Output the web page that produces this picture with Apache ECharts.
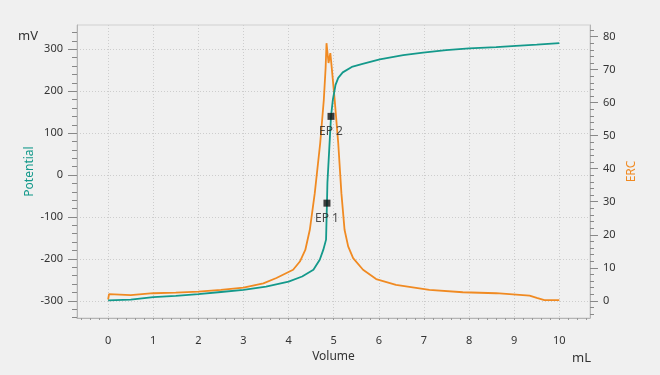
<!DOCTYPE html>
<html>
<head>
<meta charset="utf-8">
<script src="https://cdn.jsdelivr.net/npm/echarts@6/dist/echarts.min.js"></script>
<style>
html,body{margin:0;padding:0;background:#f0f0f0;}
#c{width:660px;height:375px;}
</style>
</head>
<body>
<div id="c"></div>
<script>
// ---- data ----
const potVolume = [0, 0.5, 1, 1.5, 2, 2.5, 3, 3.5, 3.75, 4, 4.3, 4.55, 4.69, 4.77, 4.83, 4.85, 4.86, 4.9, 4.94, 4.98, 5.04, 5.1, 5.2, 5.4, 5.64, 6.02, 6.54, 6.98, 7.49, 8.0, 8.6, 9.04, 9.5, 10];
const potential = [-299, -297, -291, -288, -284, -279, -274, -266, -260, -254, -242, -226, -202, -178, -154, -67, -19, 60, 140, 179, 215, 232, 245, 258, 265, 276, 286, 292, 298, 302, 305, 308, 311, 315];
const ercVolume = [0, 0.02, 0.5, 1, 1.5, 2, 2.5, 3, 3.44, 3.73, 4.1, 4.25, 4.37, 4.47, 4.58, 4.70, 4.78, 4.82, 4.84, 4.885, 4.925, 4.96, 5.02, 5.10, 5.17, 5.24, 5.32, 5.43, 5.65, 5.94, 6.38, 7.12, 7.86, 8.6, 9.34, 9.5, 9.67, 10];
const erc = [0.4, 2.0, 1.7, 2.3, 2.5, 2.8, 3.3, 4.0, 5.3, 6.9, 9.4, 11.9, 15.4, 21.5, 32.6, 47.7, 60.8, 70.4, 78, 72, 75, 70, 61, 47.7, 32.6, 21.5, 16.5, 12.9, 9.4, 6.6, 4.8, 3.3, 2.6, 2.3, 1.6, 0.9, 0.2, 0.2];
const epLabels = ['EP 1', 'EP 2'];
const epVolume = [4.85, 4.94];
const epPotential = [-67, 140];

const xTicks = [0, 1, 2, 3, 4, 5, 6, 7, 8, 9, 10];
const potTicks = [-300, -200, -100, 0, 100, 200, 300];
const ercTicks = [0, 10, 20, 30, 40, 50, 60, 70, 80];

// minor tick positions
const xMinor = [];
for (let i = -3; i <= 53; i++) xMinor.push(+(i * 0.2).toFixed(2));
const potMinor = [];
for (let v = -340; v <= 340; v += 20) if (v % 100 !== 0) potMinor.push(v);
const ercMinor = [];
for (let v = -4; v <= 82; v += 2) if (v % 10 !== 0) ercMinor.push(v);

const X_MIN = -0.69, X_MAX = 10.68;
const P_MIN = -341, P_MAX = 358;
const E_MIN = -5.2, E_MAX = 83.5;

const TEAL = '#14998b';
const ORANGE = '#f08a22';
const AXIS = '#b4b4b4';
const TXT = '#333333';
const FONT = 'Noto Sans';
const GRIDLINE = {color: '#cdcdcd', type: [1, 2], width: 1};

const chart = echarts.init(document.getElementById('c'), null, {renderer: 'canvas'});
chart.setOption({
  backgroundColor: '#f0f0f0',
  animation: false,
  textStyle: {fontFamily: FONT},
  grid: {left: 77, right: 70, top: 25, bottom: 57, show: true, borderColor: '#d0d0d0', borderWidth: 1, backgroundColor: 'transparent'},
  xAxis: [
    {
      type: 'value', min: X_MIN, max: X_MAX, position: 'bottom',
      name: 'Volume', nameLocation: 'middle', nameGap: 33, nameMoveOverlap: false,
      nameTextStyle: {color: TXT, fontSize: 12, fontFamily: FONT},
      axisLine: {show: true, onZero: false, lineStyle: {color: AXIS}},
      axisTick: {show: true, length: 2, customValues: xTicks, lineStyle: {color: '#999'}},
      axisLabel: {customValues: xTicks, color: TXT, fontSize: 11, margin: 17, fontFamily: FONT},
      splitLine: {show: true, lineStyle: GRIDLINE}
    },
    {
      type: 'value', min: X_MIN, max: X_MAX, position: 'bottom',
      axisLine: {show: false, onZero: false},
      axisTick: {show: true, length: 2, customValues: xMinor, lineStyle: {color: '#999'}},
      axisLabel: {show: false},
      splitLine: {show: false}
    }
  ],
  yAxis: [
    {
      type: 'value', min: P_MIN, max: P_MAX, position: 'left',
      name: 'Potential', nameLocation: 'middle', nameGap: 41, nameRotate: 90, nameMoveOverlap: false,
      nameTextStyle: {color: TEAL, fontSize: 12, fontFamily: FONT},
      axisLine: {show: true, onZero: false, lineStyle: {color: AXIS}},
      axisTick: {show: true, length: 9, customValues: potTicks, lineStyle: {color: '#888'}},
      axisLabel: {customValues: potTicks, color: TXT, fontSize: 11, margin: 14, fontFamily: FONT},
      splitLine: {show: true, lineStyle: GRIDLINE}
    },
    {
      type: 'value', min: E_MIN, max: E_MAX, position: 'right',
      name: 'ERC', nameLocation: 'middle', nameGap: 36, nameRotate: 90, nameMoveOverlap: false,
      nameTextStyle: {color: ORANGE, fontSize: 12, fontFamily: FONT},
      axisLine: {show: true, onZero: false, lineStyle: {color: AXIS}},
      axisTick: {show: true, length: 8, customValues: ercTicks, lineStyle: {color: '#888'}},
      axisLabel: {customValues: ercTicks, color: TXT, fontSize: 11, margin: 13, fontFamily: FONT},
      splitLine: {show: false}
    },
    {
      type: 'value', min: P_MIN, max: P_MAX, position: 'left',
      axisLine: {show: false, onZero: false},
      axisTick: {show: true, length: 5, customValues: potMinor, lineStyle: {color: '#888'}},
      axisLabel: {show: false}, splitLine: {show: false}
    },
    {
      type: 'value', min: E_MIN, max: E_MAX, position: 'right',
      axisLine: {show: false, onZero: false},
      axisTick: {show: true, length: 4, customValues: ercMinor, lineStyle: {color: '#888'}},
      axisLabel: {show: false}, splitLine: {show: false}
    }
  ],
  graphic: [
    {type: 'text', left: 18, top: 30, style: {text: 'mV', fill: TXT, font: '13px "Noto Sans"'}},
    {type: 'text', left: 572, top: 352, style: {text: 'mL', fill: TXT, font: '13px "Noto Sans"'}}
  ],
  series: [
    {
      name: 'ERC', type: 'line', xAxisIndex: 0, yAxisIndex: 1,
      data: ercVolume.map((v, i) => [v, erc[i]]),
      showSymbol: false, symbol: 'none', smooth: false,
      lineStyle: {color: ORANGE, width: 1.8}, itemStyle: {color: ORANGE}, z: 2
    },
    {
      name: 'Potential', type: 'line', xAxisIndex: 0, yAxisIndex: 0,
      data: potVolume.map((v, i) => [v, potential[i]]),
      showSymbol: false, symbol: 'none', smooth: false,
      lineStyle: {color: TEAL, width: 1.8}, itemStyle: {color: TEAL}, z: 3
    },
    {
      name: 'EP', type: 'scatter', xAxisIndex: 0, yAxisIndex: 0,
      data: epVolume.map((v, i) => ({value: [v, epPotential[i]], name: epLabels[i]})),
      symbol: 'rect', symbolSize: 7, itemStyle: {color: '#111'},
      label: {show: true, position: 'bottom', distance: 6, formatter: p => p.name, color: '#222', fontSize: 12, fontFamily: FONT},
      z: 5
    }
  ]
});
</script>
</body>
</html>
